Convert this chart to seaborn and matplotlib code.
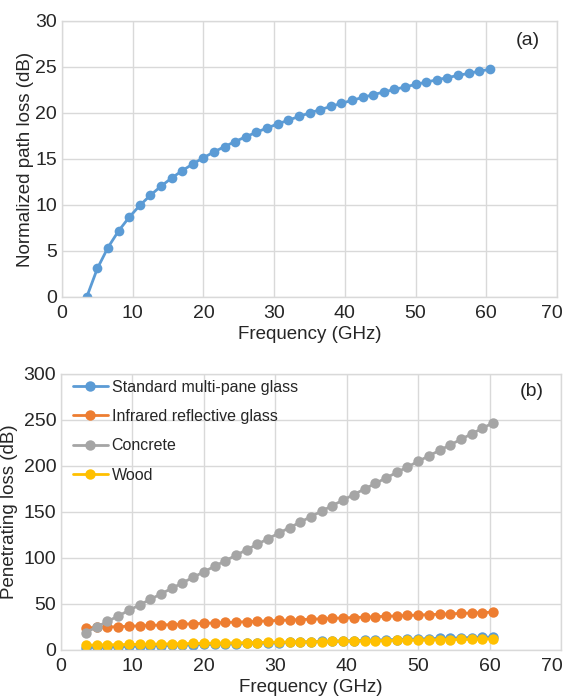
import matplotlib
matplotlib.use("Agg")
import matplotlib.pyplot as plt
import matplotlib.transforms as mtransforms
import seaborn as sns
import pandas as pd

freq = [3.5, 5, 6.5, 8, 9.5, 11, 12.5, 14, 15.5, 17, 18.5, 20, 21.5, 23, 24.5, 26,
        27.5, 29, 30.5, 32, 33.5, 35, 36.5, 38, 39.5, 41, 42.5, 44, 45.5, 47, 48.5,
        50, 51.5, 53, 54.5, 56, 57.5, 59, 60.5]

path_loss = [0.0, 3.10, 5.38, 7.18, 8.67, 9.95, 11.06, 12.04, 12.93, 13.73, 14.46,
             15.14, 15.77, 16.35, 16.90, 17.42, 17.91, 18.37, 18.81, 19.22, 19.62,
             20.0, 20.36, 20.71, 21.05, 21.37, 21.69, 21.99, 22.28, 22.56, 22.83,
             23.10, 23.36, 23.60, 23.85, 24.08, 24.31, 24.54, 24.75]

std_glass = [2.7, 3.0, 3.3, 3.6, 3.9, 4.2, 4.5, 4.8, 5.1, 5.4, 5.7, 6.0, 6.3, 6.6,
             6.9, 7.2, 7.5, 7.8, 8.1, 8.4, 8.7, 9.0, 9.3, 9.6, 9.9, 10.2, 10.5, 10.8,
             11.1, 11.4, 11.7, 12.0, 12.3, 12.6, 12.9, 13.2, 13.5, 13.8, 14.1]
irr_glass = [24.05, 24.5, 24.95, 25.4, 25.85, 26.3, 26.75, 27.2, 27.65, 28.1, 28.55,
             29.0, 29.45, 29.9, 30.35, 30.8, 31.25, 31.7, 32.15, 32.6, 33.05, 33.5,
             33.95, 34.4, 34.85, 35.3, 35.75, 36.2, 36.65, 37.1, 37.55, 38.0, 38.45,
             38.9, 39.35, 39.8, 40.25, 40.7, 41.15]
concrete = [19, 25, 31, 37, 43, 49, 55, 61, 67, 73, 79, 85, 91, 97, 103, 109, 115,
            121, 127, 133, 139, 145, 151, 157, 163, 169, 175, 181, 187, 193, 199, 205,
            211, 217, 223, 229, 235, 241, 247]
wood = [5.27, 5.45, 5.63, 5.81, 5.99, 6.17, 6.35, 6.53, 6.71, 6.89, 7.07, 7.25, 7.43,
        7.61, 7.79, 7.97, 8.15, 8.33, 8.51, 8.69, 8.87, 9.05, 9.23, 9.41, 9.59, 9.77,
        9.95, 10.13, 10.31, 10.49, 10.67, 10.85, 11.03, 11.21, 11.39, 11.57, 11.75,
        11.93, 12.11]

materials = ["Standard multi-pane glass", "Infrared reflective glass", "Concrete", "Wood"]
colors = ["#5B9BD5", "#ED7D31", "#A5A5A5", "#FFC000"]

sns.set_theme(style="whitegrid")
plt.rcParams["font.family"] = ["Liberation Sans", "DejaVu Sans"]

W, H = 565, 697
fig = plt.figure(figsize=(W / 100, H / 100), dpi=100)
ax1 = fig.add_axes([62 / W, 1 - 297 / H, 495 / W, 276 / H])
ax2 = fig.add_axes([61 / W, 1 - 650 / H, 500 / W, 276 / H])

grid_c = "#D9D9D9"

df_a = pd.DataFrame({"Frequency": freq, "Loss": path_loss})
sns.lineplot(data=df_a, x="Frequency", y="Loss", ax=ax1, color=colors[0],
             marker="o", markersize=7, markeredgewidth=0, linewidth=2)

rows = []
for name, vals in zip(materials, [std_glass, irr_glass, concrete, wood]):
    for f, v in zip(freq, vals):
        rows.append({"Frequency": f, "Loss": v, "Material": name})
df_b = pd.DataFrame(rows)
sns.lineplot(data=df_b, x="Frequency", y="Loss", hue="Material", hue_order=materials,
             palette=colors, ax=ax2, marker="o", markersize=7.5, markeredgewidth=0,
             linewidth=2)

for ax, ymax, ystep, ylabel, shift, ypad in [(ax1, 30, 5, "Normalized path loss (dB)", -5, 1),
                                             (ax2, 300, 50, "Penetrating loss (dB)", -9, 4)]:
    ax.set_xlim(0, 70)
    ax.set_ylim(0, ymax)
    ax.set_xticks(range(0, 71, 10))
    ax.set_yticks(range(0, ymax + 1, ystep))
    ax.set_xlabel("Frequency (GHz)", fontsize=13.5, labelpad=3)
    ax.set_ylabel(ylabel, fontsize=13.5, labelpad=ypad)
    ax.tick_params(axis="x", labelsize=14, length=0, pad=6)
    ax.tick_params(axis="y", labelsize=14, length=0, pad=3.5)
    ax.grid(True, color=grid_c, linewidth=1)
    for s in ax.spines.values():
        s.set_color(grid_c)
        s.set_linewidth(1)
    # nudge the last x tick label ("70") slightly left so it stays inside the figure
    lbl = ax.get_xticklabels()[-1]
    lbl.set_transform(lbl.get_transform() +
                      mtransforms.ScaledTranslation(shift / 100, 0, fig.dpi_scale_trans))

ax1.text(0.965, 0.93, "(a)", transform=ax1.transAxes, ha="right", va="center", fontsize=14)
ax2.text(0.965, 0.935, "(b)", transform=ax2.transAxes, ha="right", va="center", fontsize=14)

leg = ax2.legend(loc="upper left", frameon=False, fontsize=11.5, handlelength=2.2,
                 borderaxespad=0.0, borderpad=0.35, labelspacing=0.9, handletextpad=0.25,
                 bbox_to_anchor=(0.012, 1.0))

fig.savefig("out.png", dpi=100)
